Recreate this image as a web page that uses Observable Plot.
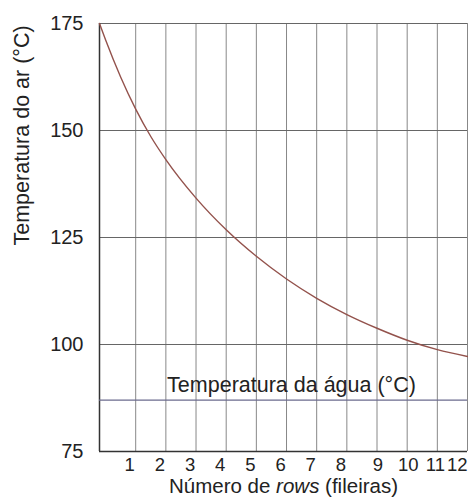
<!DOCTYPE html>
<html>
<head>
<meta charset="utf-8">
<script src="https://cdn.jsdelivr.net/npm/d3@7"></script>
<script src="https://cdn.jsdelivr.net/npm/@observablehq/plot@0.6"></script>
<style>
  html, body { margin: 0; padding: 0; background: #fff; }
  #chart svg { display: block; }
</style>
</head>
<body>
<div id="chart"></div>
<script>
// Data
const rows = [-0.2, 0, 0.5, 1, 1.5, 2, 3, 4, 5, 6, 7, 8, 9, 10, 11, 12];
const airTemp = [175, 171.2, 162.5, 155, 148.6, 143.2, 134.2, 126.8, 120.6, 115.3, 110.8, 107.0, 103.8, 101.0, 98.8, 97.2];
const waterTemp = 87;
const xTicks = [1, 2, 3, 4, 5, 6, 7, 8, 9, 10, 11, 12];
const xTicksA = [1, 2, 3, 4, 5, 6, 7, 8];
const xTicksB = [9, 10];
const xTicksC = [11];
const xTicksD = [12];
const yTicks = [75, 100, 125, 150, 175];
const waterLabel = "Temperatura da água (°C)";
const xLabel = "Número de rows (fileiras)";
const yLabel = "Temperatura do ar (°C)";

const curve = rows.map((r, i) => ({rows: r, temp: airTemp[i]}));

const tickStyle = {tickSize: 0, tickPadding: 6, fontSize: 18.5, label: null};

const chart = Plot.plot({
  width: 468,
  height: 497,
  marginLeft: 99,
  marginRight: 1,
  marginTop: 23,
  marginBottom: 46,
  style: {fontFamily: "'Liberation Sans', Arial, sans-serif", fontSize: "20px", color: "#222", background: "#fff"},
  x: {domain: [-0.2, 12]},
  y: {domain: [75, 175]},
  marks: [
    Plot.ruleX(xTicks, {stroke: "#888", strokeWidth: 1}),
    Plot.ruleY(yTicks, {stroke: "#666", strokeWidth: 1}),
    Plot.ruleY([75], {stroke: "#333", strokeWidth: 1.5}),
    Plot.ruleX([-0.2], {stroke: "#333", strokeWidth: 1.5}),
    Plot.ruleY([waterTemp], {stroke: "#6b6b8e", strokeWidth: 1.2}),
    Plot.text([waterLabel], {y: () => waterTemp, frameAnchor: "middle", dx: 8, dy: -15, text: d => d, fontSize: 21.5, fill: "#222"}),
    Plot.line(curve, {x: "rows", y: "temp", curve: "monotone-x", stroke: "#93524c", strokeWidth: 1.4}),
    Plot.axisX(xTicksA, {...tickStyle, dx: -6}),
    Plot.axisX(xTicksB, {...tickStyle, dx: 1}),
    Plot.axisX(xTicksC, {...tickStyle, dx: -2}),
    Plot.axisX(xTicksD, {...tickStyle, textAnchor: "end", dx: 0}),
    Plot.axisY(yTicks, {tickSize: 0, tickPadding: 16, label: null, fontSize: 20}),
    Plot.text([xLabel], {frameAnchor: "bottom", lineAnchor: "top", dy: 27, text: d => d, fontSize: 20.5, fill: "#222"}),
    Plot.text([yLabel], {frameAnchor: "left", rotate: -90, dx: -77, dy: 8, text: d => d, fontSize: 21.5, fill: "#222"})
  ]
});

document.getElementById("chart").appendChild(chart);

// Italicize "rows" in the x axis label
d3.select(chart).selectAll("text").each(function() {
  const t = d3.select(this);
  if (t.text() === xLabel) {
    t.text(null);
    t.append("tspan").text("Número de ");
    t.append("tspan").attr("font-style", "italic").text("rows");
    t.append("tspan").text(" (fileiras)");
  }
});
</script>
</body>
</html>
